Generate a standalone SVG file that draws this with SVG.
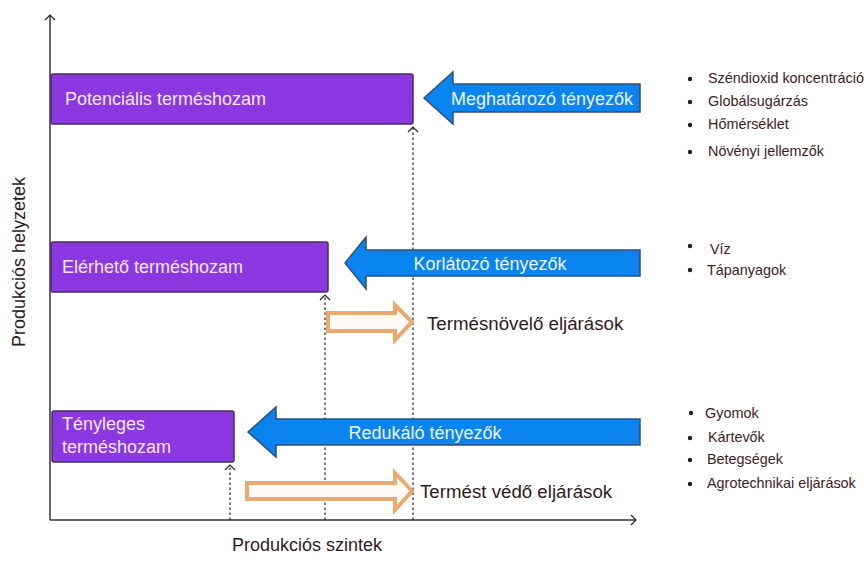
<svg xmlns="http://www.w3.org/2000/svg" width="868" height="564" viewBox="0 0 868 564">
<defs>
<marker id="open" markerWidth="12" markerHeight="12" refX="6" refY="6" orient="auto" markerUnits="userSpaceOnUse">
<path d="M1,1 L6,6 L1,11" fill="none" stroke="#222" stroke-width="1.2"/>
</marker>
<style>
.box{fill:#8b38e0;stroke:#4b2d5e;stroke-width:1.5}
.boxt{font-family:"Liberation Sans",Arial,sans-serif;font-size:18px;fill:#f3e6ff}
.blue{fill:#0a84ee;stroke:#2d4f7a;stroke-width:1.5}
.bluet{font-family:"Liberation Sans",Arial,sans-serif;font-size:18px;fill:#eaf5ff;text-anchor:middle}
.orange{fill:#fffaf4;stroke:#e8aa70;stroke-width:4;stroke-linejoin:miter}
.lab{font-family:"Liberation Sans",Arial,sans-serif;font-size:18px;fill:#2e1a1e}
.lab2{font-family:"Liberation Sans",Arial,sans-serif;font-size:18.7px;fill:#2e1a1e}
.li{font-family:"Liberation Sans",Arial,sans-serif;font-size:14.4px;fill:#3b1c25}
.dot{fill:#2a1a1a}
.axis{stroke:#333;stroke-width:1.5;fill:none}
.dash{stroke:#222;stroke-width:1.2;stroke-dasharray:2.5,2.5;fill:none}
</style>
</defs>

<g id="connectors">
<line class="axis" x1="50" y1="520" x2="50" y2="15" marker-end="url(#open)"/>
<line class="axis" x1="50" y1="520" x2="636" y2="520" marker-end="url(#open)"/>
<line class="dash" x1="413" y1="520" x2="413" y2="127" marker-end="url(#open)"/>
<line class="dash" x1="325" y1="520" x2="325" y2="295" marker-end="url(#open)"/>
<line class="dash" x1="230" y1="520" x2="230" y2="465" marker-end="url(#open)"/>
</g>

<g id="axis-labels">
<text class="lab" x="307" y="551" text-anchor="middle">Produkciós szintek</text>
<text class="lab" transform="translate(25,262) rotate(-90)" text-anchor="middle">Produkciós helyzetek</text>
</g>

<g id="potencialis">
<rect class="box" x="51" y="74" width="362" height="50" rx="2"/>
<text class="boxt" x="65" y="105">Potenciális terméshozam</text>
</g>

<g id="meghatarozo">
<polygon class="blue" points="424,98 453,72 453,84 640,84 640,112 453,112 453,124"/>
<text class="bluet" x="542" y="105">Meghatározó tényezők</text>
</g>

<g id="elerheto">
<rect class="box" x="51" y="242" width="277" height="50" rx="2"/>
<text class="boxt" x="62" y="273">Elérhető terméshozam</text>
</g>

<g id="korlatozo">
<polygon class="blue" points="345,263 366,237 366,250 640,250 640,276 366,276 366,289"/>
<text class="bluet" x="490" y="270">Korlátozó tényezők</text>
</g>

<g id="termesnovelo">
<polygon class="orange" points="328,313 395,313 395,305 412,322 395,340 395,331 328,331"/>
<text class="lab2" x="427" y="330">Termésnövelő eljárások</text>
</g>

<g id="tenyleges">
<rect class="box" x="52" y="411" width="182" height="51" rx="2"/>
<text class="boxt" x="62" y="430">Tényleges</text>
<text class="boxt" x="62" y="453">terméshozam</text>
</g>

<g id="redukalo">
<polygon class="blue" points="248,432 276,407 276,419 640,419 640,445 276,445 276,457"/>
<text class="bluet" x="425" y="439">Redukáló tényezők</text>
</g>

<g id="termestvedo">
<polygon class="orange" points="247,483 395,483 395,473 412,491 395,510 395,499 247,499"/>
<text class="lab2" x="420" y="498">Termést védő eljárások</text>
</g>

<g id="list1">
<circle class="dot" cx="690" cy="79" r="2.2"/><text class="li" x="708" y="83">Széndioxid koncentráció</text>
<circle class="dot" cx="690" cy="102" r="2.2"/><text class="li" x="708" y="106">Globálsugárzás</text>
<circle class="dot" cx="690" cy="125" r="2.2"/><text class="li" x="708" y="129">Hőmérséklet</text>
<circle class="dot" cx="690" cy="152" r="2.2"/><text class="li" x="708" y="156">Növényi jellemzők</text>
</g>

<g id="list2">
<circle class="dot" cx="690" cy="246" r="2.2"/><text class="li" x="710" y="254">Víz</text>
<circle class="dot" cx="690" cy="270" r="2.2"/><text class="li" x="707" y="275">Tápanyagok</text>
</g>

<g id="list3">
<circle class="dot" cx="691" cy="413" r="2.2"/><text class="li" x="705" y="418">Gyomok</text>
<circle class="dot" cx="690" cy="438" r="2.2"/><text class="li" x="708" y="442">Kártevők</text>
<circle class="dot" cx="690" cy="460" r="2.2"/><text class="li" x="707" y="464">Betegségek</text>
<circle class="dot" cx="690" cy="484" r="2.2"/><text class="li" x="707" y="488">Agrotechnikai eljárások</text>
</g>
</svg>
